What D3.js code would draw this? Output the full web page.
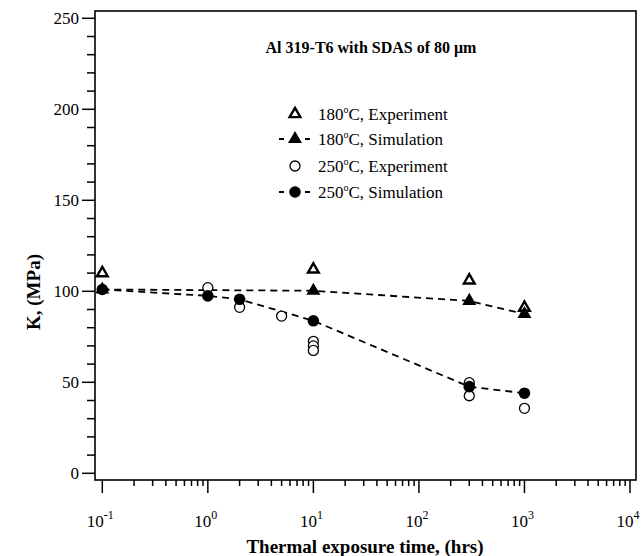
<!DOCTYPE html>
<meta charset="utf-8">
<style>
  body { margin: 0; background: #fff; }
  text { font-family: "Liberation Serif", "Times New Roman", serif; fill: #000; }
</style>
<body>
<script src="https://d3js.org/d3.v7.min.js"></script>
<script>

var width = 642,
    height = 556;

// data (time in hrs, K in MPa)
var exp180 = [[0.1, 110], [10, 112], [300, 106], [1000, 91]];
var sim180 = [[0.1, 101], [10, 100.3], [300, 94.7], [1000, 87.5]];
var exp250 = [[1, 102], [2, 91.2], [5, 86.4], [10, 72.5], [10, 70], [10, 67.5], [300, 49.8], [300, 42.6], [1000, 35.7]];
var sim250 = [[0.1, 101], [1, 97.5], [2, 95.6], [10, 83.8], [300, 47.6], [1000, 44]];

var yTicks = [0, 50, 100, 150, 200, 250];
var xTicks = [-1, 0, 1, 2, 3, 4];   // exponents
var legendLabels = ["180", "180", "250", "250"];
var legendKinds = [", Experiment", ", Simulation", ", Experiment", ", Simulation"];

var frame = {left: 95, right: 636, top: 11, bottom: 480};

var svg = d3.select("body").append("svg")
    .attr("width", width)
    .attr("height", height);

var x = d3.scaleLog().domain([0.1, 1e4]).range([102.3, 630]);
var y = d3.scaleLinear().domain([0, 250]).range([473.3, 18.3]);

// frame
svg.append("rect")
    .attr("x", frame.left).attr("y", frame.top)
    .attr("width", frame.right - frame.left)
    .attr("height", frame.bottom - frame.top)
    .attr("fill", "none").attr("stroke", "#000").attr("stroke-width", 1.6);

// y axis
var yMinor = d3.range(0, 251, 10).filter(d => d % 50 != 0);
var yAxis = svg.append("g").attr("transform", "translate(" + frame.left + ",0)");
yAxis.selectAll(".maj").data(yTicks).enter().append("line")
    .attr("x1", -13).attr("x2", 0)
    .attr("y1", d => y(d)).attr("y2", d => y(d))
    .attr("stroke", "#000").attr("stroke-width", 1.5);
yAxis.selectAll(".min").data(yMinor).enter().append("line")
    .attr("x1", -8).attr("x2", 0)
    .attr("y1", d => y(d)).attr("y2", d => y(d))
    .attr("stroke", "#000").attr("stroke-width", 1.5);
yAxis.selectAll("text").data(yTicks).enter().append("text")
    .attr("x", -16).attr("y", d => y(d) + 6)
    .attr("text-anchor", "end")
    .style("font-size", "17px")
    .text(d => d);

// x axis
var xMinor = [];
for (var e = -1; e < 4; e++) for (var m = 2; m < 10; m++) xMinor.push(m * Math.pow(10, e));
var xAxis = svg.append("g").attr("transform", "translate(0," + frame.bottom + ")");
xAxis.selectAll(".maj").data(xTicks).enter().append("line")
    .attr("x1", d => x(Math.pow(10, d))).attr("x2", d => x(Math.pow(10, d)))
    .attr("y1", 0).attr("y2", 13)
    .attr("stroke", "#000").attr("stroke-width", 1.5);
xAxis.selectAll(".min").data(xMinor).enter().append("line")
    .attr("x1", d => x(d)).attr("x2", d => x(d))
    .attr("y1", 0).attr("y2", 6)
    .attr("stroke", "#000").attr("stroke-width", 1.5);
var xl = xAxis.selectAll("text").data(xTicks).enter().append("text")
    .attr("x", d => x(Math.pow(10, d)) - 2).attr("y", 47)
    .attr("text-anchor", "middle")
    .style("font-size", "17px");
xl.append("tspan").text("10");
xl.append("tspan").attr("dy", -8).style("font-size", "12px").text(d => d);

// axis titles
svg.append("text")
    .attr("x", 365).attr("y", 553)
    .attr("text-anchor", "middle")
    .style("font-size", "19px").style("font-weight", "bold")
    .text("Thermal exposure time, (hrs)");
svg.append("text")
    .attr("transform", "translate(40,292) rotate(-90)")
    .attr("text-anchor", "middle")
    .style("font-size", "19px").style("font-weight", "bold")
    .text("K, (MPa)");

// chart title
svg.append("text")
    .attr("x", 371).attr("y", 53)
    .attr("text-anchor", "middle")
    .style("font-size", "16px").style("font-weight", "bold")
    .text("Al 319-T6 with SDAS of 80 \u03bcm");

// simulation lines
var line = d3.line().x(d => x(d[0])).y(d => y(d[1]));
[sim180, sim250].forEach(function(s) {
    svg.append("path").datum(s)
        .attr("d", line)
        .attr("fill", "none").attr("stroke", "#000")
        .attr("stroke-width", 1.8).attr("stroke-dasharray", "7,5");
});

var triOpen = d3.symbol().type(d3.symbolTriangle).size(50);
var triFill = d3.symbol().type(d3.symbolTriangle).size(85);

svg.selectAll(".e250").data(exp250).enter().append("circle")
    .attr("cx", d => x(d[0])).attr("cy", d => y(d[1])).attr("r", 5)
    .attr("fill", "#fff").attr("stroke", "#000").attr("stroke-width", 1.3);
svg.selectAll(".s250").data(sim250).enter().append("circle")
    .attr("cx", d => x(d[0])).attr("cy", d => y(d[1])).attr("r", 5.8)
    .attr("fill", "#000");
svg.selectAll(".e180").data(exp180).enter().append("path")
    .attr("transform", d => "translate(" + x(d[0]) + "," + y(d[1]) + ")")
    .attr("d", triOpen)
    .attr("fill", "none").attr("stroke", "#000").attr("stroke-width", 2.4);
svg.selectAll(".s180").data(sim180).enter().append("path")
    .attr("transform", d => "translate(" + x(d[0]) + "," + y(d[1]) + ")")
    .attr("d", triFill)
    .attr("fill", "#000");

// legend
var lg = svg.append("g").attr("transform", "translate(295,0)");
var rows = [114, 139, 166, 192];
rows.forEach(function(ry, i) {
    var g = lg.append("g").attr("transform", "translate(0," + ry + ")");
    if (i % 2 == 1) {
        g.append("line").attr("x1", -17).attr("x2", 17).attr("y1", 0).attr("y2", 0)
            .attr("stroke", "#000").attr("stroke-width", 1.8).attr("stroke-dasharray", "5,8").attr("stroke-dashoffset", -1);
    }
    if (i == 0) g.append("path").attr("d", triOpen).attr("fill", "#fff").attr("stroke", "#000").attr("stroke-width", 2.4);
    if (i == 1) g.append("path").attr("d", triFill).attr("fill", "#000");
    if (i == 2) g.append("circle").attr("r", 5).attr("fill", "#fff").attr("stroke", "#000").attr("stroke-width", 1.3);
    if (i == 3) g.append("circle").attr("r", 5.8).attr("fill", "#000");
    var t = g.append("text").attr("x", 23).attr("y", 6).style("font-size", "17px");
    t.append("tspan").text(legendLabels[i]);
    t.append("tspan").attr("dy", -7).style("font-size", "10px").text("o");
    t.append("tspan").attr("dy", 7).text("C" + legendKinds[i]);
});

</script>
